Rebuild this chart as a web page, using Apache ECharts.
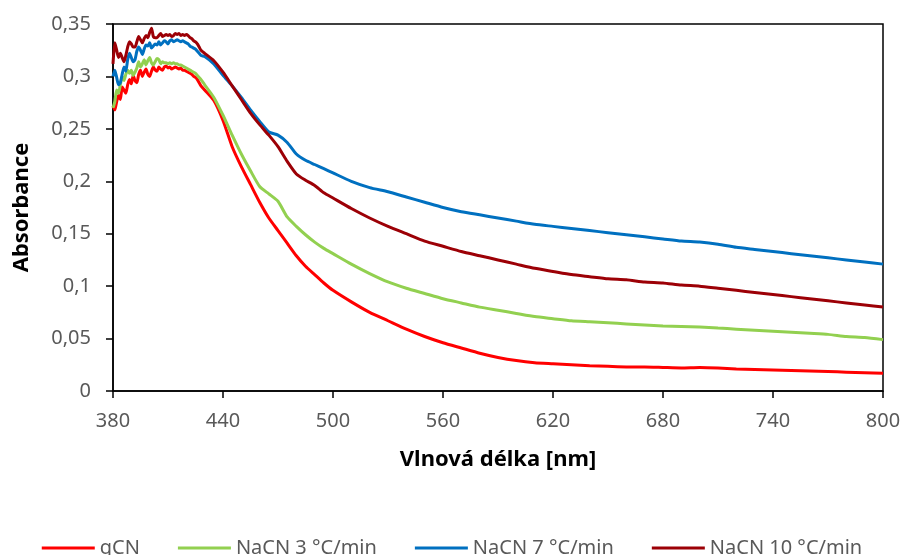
<!DOCTYPE html>
<html>
<head>
<meta charset="utf-8">
<script src="https://cdn.jsdelivr.net/npm/echarts@6/dist/echarts.min.js"></script>
<style>
  html, body { margin: 0; padding: 0; background: #fff; }
  #chart { width: 904px; height: 555px; }
</style>
</head>
<body>
<div id="chart"></div>
<script>
// Wavelength sampling [nm]: fine steps over the noisy onset, coarser afterwards
const wavelength = [
  380, 381, 382, 383, 384, 385, 386, 387, 388, 389,
  390, 391, 392, 393, 394, 395, 396, 397, 398, 399,
  400, 401, 402, 403, 404, 405, 406, 407, 408, 409,
  410, 411, 412, 413, 414, 415, 416, 417, 418, 419,
  420, 421, 422, 423, 424, 425, 426, 427, 428,
  430, 435, 440, 445, 450, 455, 460, 465, 470, 475,
  480, 485, 490, 495, 500,
  510, 520, 530, 540, 550, 560, 570, 580, 590, 600,
  610, 620, 630, 640, 650, 660, 670, 680, 690, 700,
  710, 720, 730, 740, 750, 760, 770, 780, 790, 800
];

const gCN = [
  0.272, 0.268, 0.276, 0.282, 0.278, 0.290, 0.287, 0.284, 0.292, 0.297,
  0.293, 0.301, 0.296, 0.294, 0.302, 0.306, 0.300, 0.304, 0.307, 0.302,
  0.300, 0.305, 0.309, 0.306, 0.305, 0.309, 0.307, 0.306, 0.309, 0.310,
  0.308, 0.309, 0.307, 0.308, 0.309, 0.308, 0.307, 0.308, 0.306, 0.306,
  0.305, 0.304, 0.303, 0.302, 0.300, 0.299, 0.297, 0.294, 0.291,
  0.287, 0.277, 0.258, 0.233, 0.214, 0.197, 0.180, 0.165, 0.153, 0.141,
  0.129, 0.119, 0.111, 0.103, 0.096,
  0.085, 0.075, 0.067, 0.059, 0.052, 0.046, 0.041, 0.036, 0.032, 0.029,
  0.027, 0.026, 0.025, 0.024, 0.0235, 0.023, 0.023, 0.0225, 0.022, 0.0225,
  0.022, 0.021, 0.0205, 0.020, 0.0195, 0.019, 0.0185, 0.018, 0.0175, 0.017
];

const naCN3 = [
  0.270, 0.276, 0.287, 0.284, 0.292, 0.300, 0.296, 0.302, 0.306, 0.303,
  0.306, 0.301, 0.304, 0.308, 0.314, 0.309, 0.312, 0.316, 0.311, 0.315,
  0.318, 0.313, 0.311, 0.314, 0.317, 0.316, 0.312, 0.314, 0.313, 0.313,
  0.312, 0.313, 0.312, 0.313, 0.312, 0.312, 0.311, 0.311, 0.310, 0.309,
  0.308, 0.307, 0.306, 0.305, 0.304, 0.303, 0.301, 0.299, 0.297,
  0.292, 0.280, 0.263, 0.244, 0.226, 0.210, 0.195, 0.188, 0.181, 0.166,
  0.157, 0.149, 0.142, 0.136, 0.131,
  0.121, 0.112, 0.104, 0.098, 0.093, 0.088, 0.084, 0.080, 0.077, 0.074,
  0.071, 0.069, 0.067, 0.066, 0.065, 0.064, 0.063, 0.062, 0.0615, 0.061,
  0.060, 0.059, 0.058, 0.057, 0.056, 0.055, 0.054, 0.052, 0.051, 0.049
];

const naCN7 = [
  0.300, 0.306, 0.299, 0.292, 0.294, 0.302, 0.309, 0.305, 0.316, 0.322,
  0.318, 0.314, 0.316, 0.324, 0.328, 0.325, 0.321, 0.326, 0.330, 0.329,
  0.332, 0.327, 0.329, 0.331, 0.330, 0.333, 0.330, 0.332, 0.334, 0.333,
  0.331, 0.334, 0.335, 0.333, 0.334, 0.335, 0.334, 0.333, 0.334, 0.333,
  0.332, 0.331, 0.329, 0.328, 0.327, 0.326, 0.324, 0.322, 0.320,
  0.319, 0.312, 0.301, 0.291, 0.280, 0.268, 0.257, 0.247, 0.244, 0.237,
  0.226, 0.220, 0.216, 0.212, 0.208,
  0.200, 0.194, 0.190, 0.185, 0.180, 0.175, 0.171, 0.168, 0.165, 0.162,
  0.159, 0.157, 0.155, 0.153, 0.151, 0.149, 0.147, 0.145, 0.143, 0.142,
  0.140, 0.137, 0.135, 0.133, 0.131, 0.129, 0.127, 0.125, 0.123, 0.121
];

const naCN10 = [
  0.312, 0.332, 0.325, 0.318, 0.322, 0.318, 0.314, 0.320, 0.328, 0.333,
  0.331, 0.328, 0.328, 0.333, 0.338, 0.335, 0.332, 0.336, 0.339, 0.337,
  0.342, 0.346, 0.338, 0.337, 0.337, 0.339, 0.341, 0.338, 0.339, 0.340,
  0.339, 0.340, 0.338, 0.339, 0.341, 0.340, 0.341, 0.339, 0.340, 0.339,
  0.340, 0.339, 0.337, 0.336, 0.334, 0.333, 0.331, 0.328, 0.325,
  0.322, 0.315, 0.304, 0.291, 0.278, 0.265, 0.254, 0.244, 0.233, 0.219,
  0.207, 0.201, 0.196, 0.189, 0.184,
  0.174, 0.165, 0.157, 0.150, 0.143, 0.138, 0.133, 0.129, 0.125, 0.121,
  0.117, 0.114, 0.111, 0.109, 0.107, 0.106, 0.104, 0.103, 0.101, 0.100,
  0.098, 0.096, 0.094, 0.092, 0.090, 0.088, 0.086, 0.084, 0.082, 0.080
];

const seriesNames = ['gCN', 'NaCN 3 °C/min', 'NaCN 7 °C/min', 'NaCN 10 °C/min'];
const seriesValues = [gCN, naCN3, naCN7, naCN10];
const seriesColors = ['#ff0000', '#92d050', '#0070c0', '#9c0006'];

const FONT = '"Noto Sans", "Open Sans", sans-serif';

const chart = echarts.init(document.getElementById('chart'), null, { renderer: 'canvas' });

chart.setOption({
  animation: false,
  backgroundColor: '#ffffff',
  grid: {
    left: 113, right: 21, top: 24, bottom: 164,
    show: true, borderColor: '#000000', borderWidth: 1.5,
    containLabel: false
  },
  legend: {
    top: 533,
    left: 'center',
    icon: 'rect',
    itemWidth: 53,
    itemHeight: 3,
    itemGap: 38,
    data: seriesNames,
    textStyle: { fontFamily: FONT, fontSize: 20, color: '#595959' }
  },
  xAxis: {
    type: 'value',
    min: 380, max: 800, interval: 60,
    name: 'Vlnová délka [nm]',
    nameLocation: 'middle',
    nameGap: 58,
    nameTextStyle: { fontFamily: FONT, fontSize: 22, fontWeight: 'bold', color: '#000000' },
    axisLine: { show: true, lineStyle: { color: '#000000', width: 1.5 } },
    axisTick: { show: true, inside: false, length: 7, lineStyle: { color: '#000000', width: 1.5 } },
    axisLabel: { fontFamily: FONT, fontSize: 20, color: '#595959', margin: 20 },
    splitLine: { show: false }
  },
  yAxis: {
    type: 'value',
    min: 0, max: 0.35, interval: 0.05,
    name: 'Absorbance',
    nameLocation: 'middle',
    nameGap: 80,
    nameTextStyle: { fontFamily: FONT, fontSize: 22, fontWeight: 'bold', color: '#000000' },
    axisLine: { show: true, lineStyle: { color: '#000000', width: 1.5 } },
    axisTick: { show: true, inside: false, length: 7, lineStyle: { color: '#000000', width: 1.5 } },
    axisLabel: {
      fontFamily: FONT, fontSize: 20, color: '#595959', margin: 22,
      formatter: v => String(parseFloat(v.toFixed(2))).replace('.', ',')
    },
    splitLine: { show: false }
  },
  series: seriesNames.map((name, i) => ({
    name: name,
    type: 'line',
    data: wavelength.map((w, k) => [w, seriesValues[i][k]]),
    showSymbol: false,
    symbol: 'none',
    smooth: 0.2,
    lineStyle: { color: seriesColors[i], width: 3 },
    itemStyle: { color: seriesColors[i] }
  }))
});
</script>
</body>
</html>
